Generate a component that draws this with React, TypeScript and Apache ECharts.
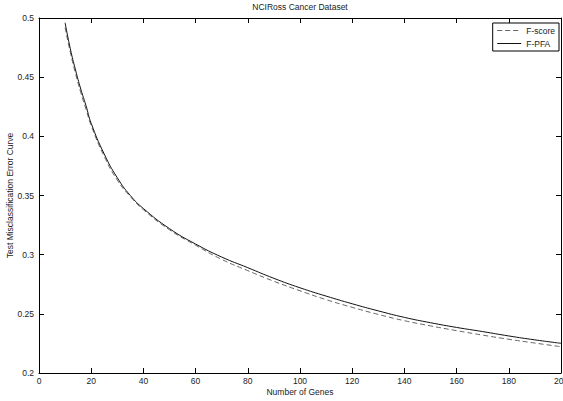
import React, { useEffect, useRef } from "react";
import * as echarts from "echarts";

// Number of genes at which each error rate was measured
const genes = [10, 12, 14, 16, 18, 20, 25, 30, 35, 40, 50, 60, 70, 80, 90, 100, 110, 120, 130, 140, 150, 160, 170, 180, 190, 200];

// Test misclassification error for each selection method
const fScore = [0.492, 0.471, 0.453, 0.437, 0.423, 0.409, 0.383, 0.363, 0.349, 0.338, 0.321, 0.308, 0.296, 0.2865, 0.2775, 0.2695, 0.262, 0.2555, 0.2495, 0.2442, 0.2398, 0.2358, 0.232, 0.2285, 0.2253, 0.2222];
const fPfa = [0.496, 0.474, 0.456, 0.44, 0.426, 0.411, 0.385, 0.365, 0.35, 0.339, 0.322, 0.309, 0.298, 0.289, 0.28, 0.272, 0.265, 0.2585, 0.2525, 0.247, 0.2425, 0.2385, 0.235, 0.2313, 0.228, 0.2251];

const seriesNames = ["F-score", "F-PFA"];

const FONT = "'Liberation Sans', Arial, Helvetica, sans-serif";
const FS = 8.5;

export default function App() {
  const ref = useRef<HTMLDivElement>(null);

  useEffect(() => {
    if (!ref.current) return;
    const chart = echarts.init(ref.current, undefined, { renderer: "svg" });

    const pair = (ys: number[]) => genes.map((g, i) => [g, ys[i]]);

    const baseX = {
      type: "value" as const,
      min: 0,
      max: 200,
      interval: 20,
      axisLine: { show: true, onZero: false, lineStyle: { color: "#000", width: 1 } },
      axisTick: { show: true, inside: true, length: 5, lineStyle: { color: "#000" } },
      splitLine: { show: false },
    };
    const baseY = {
      type: "value" as const,
      min: 0.2,
      max: 0.5,
      interval: 0.05,
      axisLine: { show: true, onZero: false, lineStyle: { color: "#000", width: 1 } },
      axisTick: { show: true, inside: true, length: 5, lineStyle: { color: "#000" } },
      splitLine: { show: false },
    };

    chart.setOption({
      animation: false,
      backgroundColor: "#fff",
      textStyle: { fontFamily: FONT },
      title: {
        text: "NCIRoss Cancer Dataset",
        left: 300,
        textAlign: "center",
        top: 2,
        padding: 0,
        textStyle: { fontSize: FS, fontWeight: "normal", color: "#222", fontFamily: FONT },
      },
      legend: {
        data: seriesNames,
        orient: "vertical",
        right: 4,
        top: 23,
        backgroundColor: "#fff",
        borderColor: "#000",
        borderWidth: 1,
        borderRadius: 0,
        padding: [3, 4, 3, 4],
        itemGap: 4,
        itemWidth: 24,
        itemHeight: 8,
        itemStyle: { color: "transparent", borderWidth: 0, opacity: 0 },
        lineStyle: { width: 1 },
        textStyle: { fontSize: FS, color: "#222", fontFamily: FONT },
      },
      grid: {
        left: 39,
        right: 2,
        top: 18,
        bottom: 28,
        containLabel: false,
        outerBoundsMode: "none",
      },
      xAxis: [
        {
          ...baseX,
          position: "bottom",
          name: "Number of Genes",
          nameLocation: "middle",
          nameGap: 14,
          nameMoveOverlap: false,
          nameTextStyle: { fontSize: FS, color: "#222", fontFamily: FONT },
          axisLabel: { fontSize: FS, color: "#222", margin: 3, fontFamily: FONT },
        },
        { ...baseX, position: "top", axisLabel: { show: false } },
      ],
      yAxis: [
        {
          ...baseY,
          position: "left",
          name: "Test Misclassification Error Curve",
          nameLocation: "middle",
          nameGap: 25,
          nameMoveOverlap: false,
          nameTextStyle: { fontSize: FS, color: "#222", fontFamily: FONT },
          axisLabel: { fontSize: FS, color: "#222", margin: 5, fontFamily: FONT },
        },
        { ...baseY, position: "right", axisLabel: { show: false } },
      ],
      series: [
        {
          name: seriesNames[0],
          type: "line",
          data: pair(fScore),
          smooth: true,
          showSymbol: false,
          symbol: "none",
          color: "#666",
          lineStyle: { color: "#666", width: 1, type: [5, 3] },
        },
        {
          name: seriesNames[1],
          type: "line",
          data: pair(fPfa),
          smooth: true,
          showSymbol: false,
          symbol: "none",
          color: "#111",
          lineStyle: { color: "#111", width: 1, type: "solid" },
        },
      ],
    });

    return () => chart.dispose();
  }, []);

  return (
    <div
      ref={ref}
      style={{ position: "fixed", left: 0, top: 0, width: 563, height: 401, background: "#fff" }}
    />
  );
}
